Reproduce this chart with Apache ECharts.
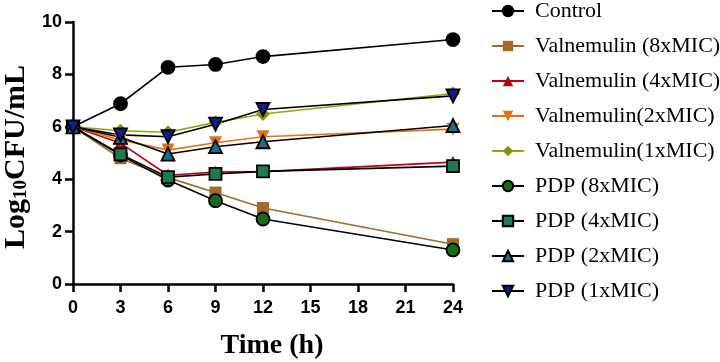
<!DOCTYPE html>
<html><head><meta charset="utf-8">
<script src="https://cdn.jsdelivr.net/npm/echarts@6/dist/echarts.min.js"></script>
<style>html,body{margin:0;padding:0;background:#fff}#c{width:720px;height:362px}</style>
</head><body><div id="c"></div>
<script>
const times = [0, 3, 6, 9, 12, 24];
const seriesNames = ['Control','Valnemulin (8xMIC)','Valnemulin (4xMIC)','Valnemulin(2xMIC)','Valnemulin(1xMIC)','PDP (8xMIC)','PDP (4xMIC)','PDP (2xMIC)','PDP (1xMIC)'];
const control   = [6.0, 6.88, 8.27, 8.38, 8.68, 9.33];
const val8      = [6.0, 4.8, 4.06, 3.49, 2.9, 1.52];
const val4      = [6.0, 5.38, 4.15, 4.27, 4.29, 4.65];
const val2      = [6.0, 5.5, 5.11, 5.39, 5.62, 5.91];
const val1      = [6.0, 5.85, 5.79, 6.17, 6.49, 7.27];
const pdp8      = [6.0, 4.92, 3.97, 3.18, 2.48, 1.3];
const pdp4      = [6.0, 4.95, 4.08, 4.2, 4.3, 4.5];
const pdp2      = [6.0, 5.6, 4.96, 5.24, 5.43, 6.05];
const pdp1      = [6.0, 5.69, 5.62, 6.1, 6.66, 7.18];
const xTicks = [0,3,6,9,12,15,18,21,24];
const yTicks = [0,2,4,6,8,10];

const allData = [control, val8, val4, val2, val1, pdp8, pdp4, pdp2, pdp1];
const styles = [
  {sym:'circle', fill:'#000', line:'#000', border:'#000', size:13},
  {sym:'rect', fill:'#A06A28', line:'#A06A28', border:null, size:12},
  {sym:'triangle', fill:'#B0080C', line:'#C00010', border:null, size:13},
  {sym:'path://M0,0 L10,0 L5,9 Z', fill:'#E07414', line:'#E07414', border:null, size:13},
  {sym:'diamond', fill:'#8C9010', line:'#9CA012', border:null, size:14},
  {sym:'circle', fill:'#1A6A1A', line:'#000', border:'#000', size:13},
  {sym:'rect', fill:'#1E7A52', line:'#000', border:'#000', size:12},
  {sym:'triangle', fill:'#1F6C8A', line:'#000', border:'#000', size:13},
  {sym:'path://M0,0 L10,0 L5,9 Z', fill:'#101E8C', line:'#000', border:'#000', size:13}
];

const series = seriesNames.map((n,i)=>({
  name:n, type:'line',
  data: times.map((t,j)=>[t, allData[i][j]]),
  symbol: styles[i].sym, symbolSize: styles[i].size,
  lineStyle:{color:styles[i].line, width:1.6},
  itemStyle:{color:styles[i].fill, borderColor: styles[i].border||styles[i].fill, borderWidth: styles[i].border?1.8:0, opacity:1},
  emphasis:{disabled:true},
  animation:false
}));

const chart = echarts.init(document.getElementById('c'), null, {renderer:'canvas'});
const axisLbl = {fontFamily:'Liberation Sans, Arial', fontWeight:'bold', fontSize:18, color:'#000'};
chart.setOption({
  animation:false,
  grid:{left:73, right:267, top:22, bottom:78, containLabel:false, outerBoundsMode:'none'},
  xAxis:{type:'value', min:0, max:24, interval:3,
    axisLine:{lineStyle:{color:'#000', width:2.5}},
    axisTick:{length:8, lineStyle:{color:'#000', width:2.5}},
    axisLabel:Object.assign({margin:15, formatter:v=>xTicks.includes(v)?String(v):''}, axisLbl),
    splitLine:{show:false},
    name:'Time (h)', nameLocation:'middle', nameGap:48,
    nameTextStyle:{fontFamily:'Liberation Serif, Times New Roman', fontWeight:'bold', fontSize:28, color:'#000', padding:[0,0,0,18]}
  },
  yAxis:{type:'value', min:0, max:10, interval:2,
    axisLine:{show:true, lineStyle:{color:'#000', width:2.5}},
    axisTick:{show:true, length:8, lineStyle:{color:'#000', width:2.5}},
    axisLabel:Object.assign({margin:11, formatter:v=>yTicks.includes(v)?String(v):''}, axisLbl),
    splitLine:{show:false},
    name:'{a|Log}{b|10}{a|CFU/mL}', nameLocation:'middle', nameGap:40, nameRotate:90,
    nameTextStyle:{color:'#000', padding:[0,8,0,0], rich:{
      a:{fontFamily:'Liberation Serif, Times New Roman', fontWeight:'bold', fontSize:30, color:'#000', verticalAlign:'bottom', lineHeight:34},
      b:{fontFamily:'Liberation Serif, Times New Roman', fontWeight:'bold', fontSize:19, color:'#000', verticalAlign:'bottom', lineHeight:25}
    }}
  },
  legend:{orient:'vertical', left:486, top:-5, itemWidth:32, itemHeight:13, itemGap:13,
    textStyle:{fontFamily:'Liberation Serif, Times New Roman', fontSize:22, color:'#000', lineHeight:21, padding:[0,0,0,6]},
    data:seriesNames, selectedMode:false},
  series: series
});
</script></body></html>
